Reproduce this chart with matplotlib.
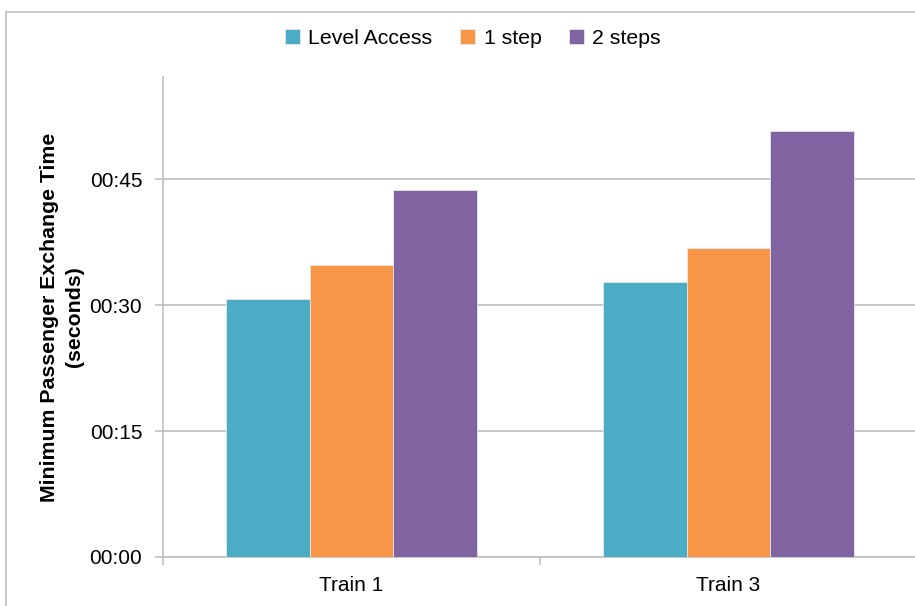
import matplotlib
matplotlib.use("Agg")
import numpy as np
import matplotlib.pyplot as plt
from matplotlib.ticker import FuncFormatter, FixedLocator
from matplotlib.patches import Rectangle

plt.rcParams['font.family'] = ['Liberation Sans', 'DejaVu Sans']

trains = ['Train 1', 'Train 3']
series = ['Level Access', '1 step', '2 steps']
colors = ['#4BACC6', '#F79646', '#8064A2']
# minimum exchange time in seconds
level_access = [30.7, 32.7]
one_step = [34.8, 36.8]
two_steps = [43.7, 50.7]
values = [level_access, one_step, two_steps]

fig = plt.figure(figsize=(9.15, 6.06), dpi=100)
ax = fig.add_axes([163 / 915, 49 / 606, 754 / 915, 480 / 606])

x = np.arange(len(trains)) + 0.5
w = 0.2215
for i, (name, vals) in enumerate(zip(series, values)):
    ax.bar(x + (i - 1) * w, vals, width=w, color=colors[i], label=name,
           edgecolor='#E6E6E6', linewidth=0.6, zorder=3)

ax.set_xlim(0, 2)
ax.set_ylim(0, 57.15)
ax.yaxis.set_major_locator(FixedLocator([0, 15, 30, 45]))
ax.yaxis.set_major_formatter(FuncFormatter(lambda v, p: '%02d:%02d' % (int(v) // 60, int(v) % 60)))
ax.grid(axis='y', color='#BFBFBF', linewidth=1.2, zorder=0)

ax.set_xticks(x)
ax.set_xticklabels(trains)
ax.set_xticks([0, 1, 2], minor=True)
ax.tick_params(axis='x', which='major', length=0, labelsize=15, pad=14)
ax.tick_params(axis='x', which='minor', length=6, color='#BFBFBF', width=1.2)
ax.tick_params(axis='y', length=6, color='#BFBFBF', width=1.2, labelsize=15, pad=9)

for s in ['top', 'right']:
    ax.spines[s].set_visible(False)
for s in ['left', 'bottom']:
    ax.spines[s].set_color('#BFBFBF')
    ax.spines[s].set_linewidth(1.2)

ax.set_ylabel('Minimum Passenger Exchange Time\n(seconds)', fontsize=15.3,
              fontweight='bold', labelpad=4, linespacing=1.4)

ax.legend(loc='center', bbox_to_anchor=(473 / 915, 568 / 606), bbox_transform=fig.transFigure,
          ncol=3, frameon=False, fontsize=15.3, handlelength=0.7, handleheight=0.7,
          handletextpad=0.4, columnspacing=1.3)

# outer chart border
fig.patches.append(Rectangle((6 / 915, -0.1), 1.2, (594 / 606) + 0.1, transform=fig.transFigure,
                             fill=False, edgecolor='#BFBFBF', linewidth=1.2))

fig.savefig('out.png', dpi=100)
